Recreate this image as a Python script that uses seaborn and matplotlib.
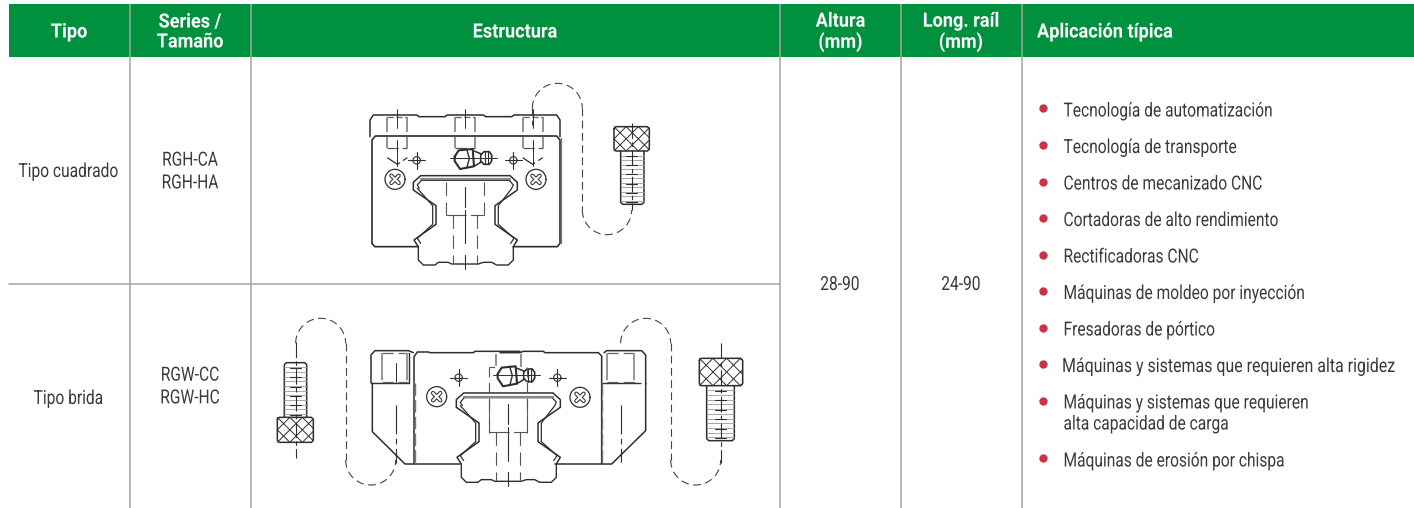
import matplotlib
matplotlib.use("Agg")
import numpy as np
import pandas as pd
import seaborn as sns
import matplotlib.pyplot as plt
from matplotlib.patches import Rectangle
from matplotlib.patheffects import AbstractPathEffect
from matplotlib.transforms import Affine2D, Bbox

HEADERS = ["Tipo", "Series /\nTamaño", "Estructura", "Altura\n(mm)", "Long. raíl\n(mm)", "Aplicación típica"]
TYPES = ["Tipo cuadrado", "Tipo brida"]
SERIES = ["RGH-CA\nRGH-HA", "RGW-CC\nRGW-HC"]
HEIGHT = "28-90"
RAIL = "24-90"
APPS = ["Tecnología de automatización", "Tecnología de transporte", "Centros de mecanizado CNC",
        "Cortadoras de alto rendimiento", "Rectificadoras CNC", "Máquinas de moldeo por inyección",
        "Fresadoras de pórtico", "Máquinas y sistemas que requieren alta rigidez",
        "Máquinas y sistemas que requieren\nalta capacidad de carga", "Máquinas de erosión por chispa"]
APP_Y = [111.5, 148, 184.5, 221, 257.5, 294, 330.5, 367, 414, 461.5]
BULLET_Y = [108, 145, 181.5, 218, 254.5, 291, 327.5, 364, 400.5, 458]

sns.set_theme(style="white")
plt.rcParams["font.family"] = ["Roboto", "DejaVu Sans"]

fig = plt.figure(figsize=(14.14, 5.08), dpi=100, facecolor="white")
ax = fig.add_axes([0, 0, 1, 1])
ax.set_xlim(0, 1414)
ax.set_ylim(508, 0)
ax.axis("off")

GREEN = "#00913F"
GRID = "#A3A3A3"
TXT = "#3A3A3A"
INK = "#2E2E2E"


class Squeeze(AbstractPathEffect):
    """Condenses real text horizontally about its anchor."""
    def __init__(self, sx, x0):
        super().__init__()
        self.sx, self.x0 = sx, x0

    def draw_path(self, renderer, gc, tpath, affine, rgbFace=None):
        t = affine + Affine2D().translate(-self.x0, 0).scale(self.sx, 1).translate(self.x0, 0)
        renderer.draw_path(gc, tpath, t, rgbFace)


def label(x, y, s, sx, **kw):
    t = ax.text(x, y, s, **kw)
    t.set_path_effects([Squeeze(sx, x)])
    orig = t.get_window_extent

    def extent(renderer=None, dpi=None):
        b = orig(renderer, dpi)
        return Bbox([[x + (b.x0 - x) * sx, b.y0], [x + (b.x1 - x) * sx, b.y1]])
    t.get_window_extent = extent
    return t


ax.add_patch(Rectangle((9, 4), 1405, 53, fc=GREEN, ec="none", zorder=1))
for x in [129.5, 250.5, 780, 901, 1022]:
    ax.plot([x, x], [4, 508], color=GRID, lw=1.1, zorder=2, solid_capstyle="butt")
ax.plot([9, 780], [283.5, 283.5], color=GRID, lw=1.1, zorder=2)

HEAD_X = [69, 190, 515, 840.5, 961, 1037]
for h, x in zip(HEADERS, HEAD_X):
    left = h.startswith("Aplic")
    label(x, 32, h, 0.92, color="white", fontsize=14.2, fontweight="bold", ha="left" if left else "center",
          va="center", linespacing=1.06, zorder=3)

BODY = 14
SX = 0.80
label(68.5, 172, TYPES[0], SX, color=TXT, fontsize=BODY, ha="center", va="center")
label(68.5, 399, TYPES[1], SX, color=TXT, fontsize=BODY, ha="center", va="center")
label(190, 172, SERIES[0], SX, color=TXT, fontsize=BODY, ha="center", va="center", linespacing=1.34)
label(190, 387, SERIES[1], SX, color=TXT, fontsize=BODY, ha="center", va="center", linespacing=1.34)
label(840, 285, HEIGHT, SX, color=TXT, fontsize=BODY, ha="center", va="center")
label(961, 285, RAIL, SX, color=TXT, fontsize=BODY, ha="center", va="center")
for t, y in zip(APPS, APP_Y):
    if t.endswith("rigidez"):
        # anchored on its right end, so the unscaled text box stays inside the figure
        label(1397, y, t, 0.82, color=TXT, fontsize=BODY, ha="right", va="center")
    else:
        label(1063.5, y, t, SX, color=TXT, fontsize=BODY, ha="left", va="center", linespacing=1.22)

sns.scatterplot(data=pd.DataFrame({"x": [1043] * len(BULLET_Y), "y": BULLET_Y}), x="x", y="y", ax=ax,
                color="#C8334A", s=36, linewidth=0, zorder=3, legend=False)
ax.set_xlim(0, 1414)
ax.set_ylim(508, 0)
ax.axis("off")


class Crop:
    """Draws in 3x zoomed crop coordinates, with an optional extra shift."""
    def __init__(self, ox, oy):
        self.ox, self.oy = ox, oy

    def line(self, pts, lw=1.0, c=INK, dash=None, z=4):
        a = np.array(pts, float)
        kw = {"linestyle": (0, dash)} if dash else {}
        ax.plot(self.ox + a[:, 0] / 3, self.oy + a[:, 1] / 3, color=c, lw=lw, zorder=z,
                solid_joinstyle="round", **kw)

    def arc(self, cx, cy, r, a0, a1, dash=(7, 4), lw=0.8):
        t = np.radians(np.linspace(a0, a1, 60))
        self.line(np.c_[cx + r * np.cos(t), cy + r * np.sin(t)], lw=lw, dash=dash, c="#444444")

    def circle(self, cx, cy, r, lw=0.9):
        t = np.linspace(0, 2 * np.pi, 60)
        self.line(np.c_[cx + r * np.cos(t), cy + r * np.sin(t)], lw=lw)

    def crosshair(self, cx, cy, r=11, arm=25):
        self.circle(cx, cy, r, 0.8)
        self.line([(cx - arm, cy), (cx + arm, cy)], 0.8)
        self.line([(cx, cy - arm), (cx, cy + arm)], 0.8)

    def screw(self, cx, cy, r=30):
        self.circle(cx, cy, r, 0.9)
        k = 11
        self.line([(cx - k, cy - k), (cx + k, cy + k)], 3.0, c=INK)
        self.line([(cx - k, cy + k), (cx + k, cy - k)], 3.0, c=INK)
        self.line([(cx - k, cy - k), (cx + k, cy + k)], 1.5, c="white", z=5)
        self.line([(cx - k, cy + k), (cx + k, cy - k)], 1.5, c="white", z=5)

    def bolt(self, hx0, hx1, hy0, hy1, sx0, sx1, sy0, sy1, cx, cy0, cy1):
        self.line([(hx0, hy0 + 6), (hx0 + 6, hy0), (hx1 - 6, hy0), (hx1, hy0 + 6), (hx1, hy1 - 6),
                   (hx1 - 6, hy1), (hx0 + 6, hy1), (hx0, hy1 - 6), (hx0, hy0 + 6)], 1.1)
        h = hy1 - hy0
        for x in np.arange(hx0 - h, hx1 + 1, h / 2):
            a0, a1 = max(x, hx0), min(x + h, hx1)
            if a1 > a0:
                self.line([(a0, hy0 + a0 - x), (a1, hy0 + a1 - x)], 0.7)
                self.line([(a0, hy1 - (a0 - x)), (a1, hy1 - (a1 - x))], 0.7)
        if sy1 > hy0:
            self.line([(sx0, sy0), (sx0, sy1 - 6), (sx0 + 6, sy1), (sx1 - 6, sy1), (sx1, sy1 - 6), (sx1, sy0)], 1.1)
        else:
            self.line([(sx0, sy0), (sx0, sy1 + 6), (sx0 + 6, sy1), (sx1 - 6, sy1), (sx1, sy1 + 6), (sx1, sy0)], 1.1)
        ys = np.linspace(min(sy0, sy1) + 14, max(sy0, sy1) - 10, 11)
        for i, y in enumerate(ys):
            self.line([(sx0, y), (sx1, y)], 0.6, c="#9A9A9A")
            if i % 2 == 0:
                self.line([(cx - 16, y + 2), (cx + 16, y + 2)], 0.8)
        self.line([(cx, cy0), (cx, cy1)], 0.8, dash=(14, 3, 4, 3))


def rail_group(c):
    c.line([(175, 515), (162, 495), (228, 448), (228, 392), (160, 345), (160, 322), (182, 302), (450, 302),
            (472, 322), (472, 345), (405, 392), (405, 448), (472, 495), (460, 515)], 1.1)
    c.line([(178, 340), (172, 330), (184, 316), (448, 316), (460, 330), (454, 342), (415, 392), (415, 448),
            (462, 490), (452, 505)], 0.9)
    c.line([(172, 340), (218, 392), (218, 448), (172, 490), (182, 505)], 0.9)
    c.line([(182, 313), (450, 313)], 1.6, c="#888888")
    c.line([(175, 515), (175, 555), (190, 570), (225, 570), (235, 562), (265, 562), (275, 567), (355, 567),
            (370, 562), (395, 562), (410, 570), (445, 570), (460, 555), (460, 515)], 1.0)
    d = (12, 6)
    c.line([(258, 322), (258, 420)], 0.8, dash=d, c="#555555")
    c.line([(373, 322), (373, 420)], 0.8, dash=d, c="#555555")
    c.line([(258, 420), (373, 420)], 0.8, dash=(18, 4), c="#555555")
    c.line([(278, 420), (278, 567)], 0.8, dash=d, c="#555555")
    c.line([(352, 420), (352, 567)], 0.8, dash=d, c="#555555")
    c.line([(316, 335), (316, 395)], 0.8)
    c.line([(316, 405), (316, 505)], 0.8)
    c.line([(316, 540), (316, 582)], 0.8)


def nipple(c):
    c.line([(270, 248), (410, 248)], 0.7)
    c.line([(284, 245), (296, 226), (338, 222), (342, 274), (300, 282), (284, 258), (284, 245)], 1.5)
    c.line([(320, 222), (328, 250), (320, 280)], 1.0)
    c.line([(342, 228), (362, 236), (362, 262), (342, 274)], 1.1)
    c.line([(362, 240), (372, 230), (388, 230), (395, 240), (395, 258), (388, 268), (372, 268), (362, 258)], 1.2)
    c.line([(376, 230), (376, 268)], 0.8)
    c.line([(384, 230), (384, 268)], 0.8)


# ---------- square block ----------
a = Crop(360, 75)
a.line([(30, 185), (30, 135), (40, 120), (170, 120), (177, 125), (255, 125), (262, 120), (370, 120), (377, 125),
        (455, 125), (462, 120), (590, 120), (600, 135), (600, 185)], 1.1)
a.line([(36, 505), (36, 195), (46, 183), (590, 183), (600, 195), (600, 505), (592, 515), (460, 515)], 1.2)
a.line([(36, 505), (44, 515), (175, 515)], 1.2)
a.line([(604, 190), (604, 505)], 0.9, c="#777777")
for cx in [112, 316, 518]:
    a.line([(cx - 30, 125), (cx + 30, 125)], 0.9, dash=(5, 2), c="#666666")
    a.line([(cx - 30, 125), (cx - 30, 218)], 1.2, dash=(9, 3), c="#808080")
    a.line([(cx + 30, 125), (cx + 30, 218)], 1.2, dash=(9, 3), c="#808080")
    a.line([(cx - 30, 218), (cx + 30, 218)], 0.9, dash=(9, 3), c="#555555")
    a.line([(cx, 102), (cx, 160)], 0.7)
    if cx != 316:
        a.line([(cx - 30, 248), (cx, 268), (cx + 30, 248)], 0.9, dash=(12, 3))
        a.line([(cx, 195), (cx, 272)], 0.7)
a.crosshair(170, 256)
a.crosshair(460, 256)
a.screw(105, 313)
a.screw(528, 313)
rail_group(a)
nipple(a)
a.arc(592, 100, 75, 180, 360)
a.line([(517, 100), (517, 150)], 0.8, dash=(7, 4), c="#444444")
a.line([(667, 100), (667, 405)], 0.8, dash=(7, 4), c="#444444")
a.arc(741, 405, 74, 180, 0)
a.bolt(762, 868, 155, 228, 782, 852, 228, 388, 815, 145, 405)

# ---------- flange block ----------
r = Crop(360 + 43, 75 + 217.3)
rail_group(r)
nipple(r)

b = Crop(260, 310)
b.line([(333, 218), (333, 135), (345, 122), (445, 122), (460, 128)], 1.1)
b.line([(333, 220), (447, 220)], 1.0)
b.line([(337, 220), (337, 365), (435, 462), (600, 462)], 1.1)
b.line([(462, 462), (462, 140), (472, 126), (505, 126), (510, 128), (640, 128), (645, 124), (700, 124), (780, 124)], 1.1)
b.line([(466, 220), (466, 462)], 1.0, dash=(9, 3), c="#777777")
b.line([(447, 128), (447, 218)], 1.0)
b.line([(365, 130), (445, 130)], 0.9, dash=(9, 4), c="#666666")
b.line([(365, 130), (365, 215)], 1.4, dash=(14, 4), c="#969696")
b.line([(442, 130), (442, 215)], 1.4, dash=(14, 4), c="#969696")
b.line([(365, 216), (445, 216)], 0.9, dash=(9, 4), c="#666666")
b.line([(407, 160), (407, 215)], 0.7)
b.line([(407, 285), (407, 460)], 0.8, dash=(26, 4, 5, 4))
b.crosshair(596, 203)
b.screw(530, 260)
b.line([(686, 170), (686, 370)], 0.8, dash=(9, 5), c="#555555")
b.line([(686, 170), (706, 170)], 0.8, dash=(5, 3), c="#555555")
b.line([(708, 132), (708, 168)], 1.2, dash=(9, 3), c="#808080")
b.arc(182, 100, 75, 180, 360)
b.line([(257, 100), (257, 450)], 0.8, dash=(7, 4), c="#444444")
b.arc(332, 450, 75, 180, 0)
b.bolt(52, 160, 322, 397, 73, 140, 322, 158, 107, 95, 445)

c = Crop(500, 310)
c.line([(0, 128), (60, 128), (70, 124), (130, 124), (135, 128), (262, 128), (295, 128), (305, 138), (305, 462)], 1.1)
c.line([(165, 462), (335, 462), (437, 362), (437, 135), (425, 122), (320, 122), (312, 128)], 1.1)
c.line([(305, 220), (437, 220)], 1.0, dash=(28, 3))
c.line([(320, 130), (405, 130)], 0.9, dash=(9, 4), c="#666666")
c.line([(320, 130), (320, 215)], 1.4, dash=(14, 4), c="#969696")
c.line([(402, 130), (402, 215)], 1.4, dash=(14, 4), c="#969696")
c.line([(320, 216), (405, 216)], 0.9, dash=(9, 4), c="#666666")
c.line([(362, 285), (362, 455)], 0.8, dash=(26, 4, 5, 4))
c.line([(307, 220), (307, 460)], 1.0, dash=(9, 3), c="#777777")
c.line([(82, 170), (82, 370)], 0.8, dash=(9, 5), c="#555555")
c.line([(62, 132), (62, 170)], 1.2, dash=(9, 3), c="#808080")
c.crosshair(172, 203)
c.screw(240, 262)
c.arc(437, 100, 75, 180, 360)
c.line([(512, 100), (512, 450)], 0.8, dash=(7, 4), c="#444444")
c.arc(587, 450, 75, 180, 0)
c.bolt(598, 728, 145, 227, 620, 703, 227, 392, 662, 100, 460)

fig.savefig("out.png", dpi=100)
